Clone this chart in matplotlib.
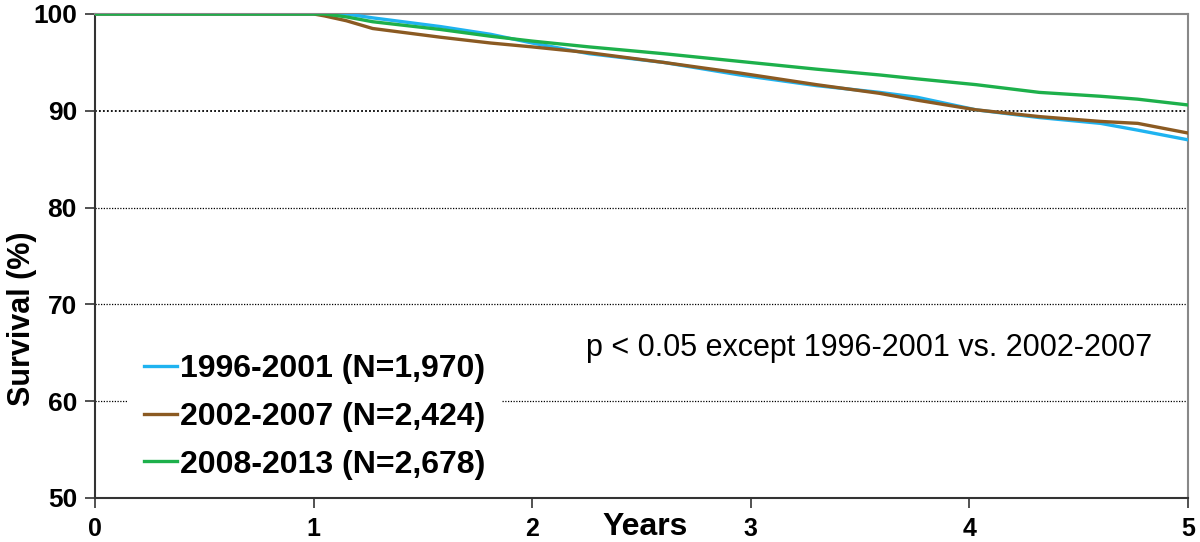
import numpy as np
import matplotlib
matplotlib.use('Agg')
import matplotlib.pyplot as plt

plt.rcParams['font.family'] = ['Liberation Sans', 'DejaVu Sans']

# survival curves
years = [0, 1.0, 1.05, 1.15, 1.27, 1.58, 1.81, 2.0, 2.26, 2.6, 2.95, 3.3,
         3.59, 3.76, 4.03, 4.32, 4.6, 4.77, 5.0]
surv_9601 = [100, 100, 100, 100, 99.6, 98.7, 97.9, 97.0, 95.9, 95.0, 93.7, 92.6,
             91.9, 91.4, 90.1, 89.3, 88.7, 88.0, 87.0]
surv_0207 = [100, 100, 99.8, 99.3, 98.5, 97.6, 97.0, 96.6, 96.0, 95.0, 93.9, 92.7,
             91.8, 91.1, 90.1, 89.4, 88.9, 88.7, 87.7]
surv_0813 = [100, 100, 100, 99.7, 99.2, 98.4, 97.7, 97.2, 96.6, 95.9, 95.1, 94.3,
             93.7, 93.3, 92.7, 91.9, 91.5, 91.2, 90.6]

labels = ['1996-2001 (N=1,970)', '2002-2007 (N=2,424)', '2008-2013 (N=2,678)']
colors = ['#1fb3f0', '#8b5a22', '#1db04b']
xticks = [0, 1, 2, 3, 4, 5]
yticks = [50, 60, 70, 80, 90, 100]

fig = plt.figure(figsize=(12, 5.42), dpi=100)
ax = fig.add_axes([0.0792, 0.0812, 0.9108, 0.893])

for y, c, lab in zip([surv_9601, surv_0207, surv_0813], colors, labels):
    ax.plot(years, y, color=c, lw=2.4, label=lab, zorder=3)

ax.set_xlim(0, 5)
ax.set_ylim(50, 100)
ax.set_xticks(xticks)
ax.set_yticks(yticks)
ax.tick_params(axis='both', direction='out', length=7, width=1.2, colors='#333333',
               labelcolor='black')
ax.tick_params(axis='x', pad=7, labelsize=18)
ax.tick_params(axis='y', pad=6, labelsize=19)
for lb in ax.get_xticklabels() + ax.get_yticklabels():
    lb.set_fontweight('bold')

for yy in [60, 70, 80, 90]:
    ax.axhline(yy, color='black', lw=1.3 if yy == 90 else 0.9, ls=(0, (1, 1.2)), zorder=1)

for s in ['left', 'bottom']:
    ax.spines[s].set_color('#333333')
    ax.spines[s].set_linewidth(1.5)
for s in ['top', 'right']:
    ax.spines[s].set_color('#888888')
    ax.spines[s].set_linewidth(1.5)

ax.set_ylabel('Survival (%)', fontsize=22, fontweight='bold')
ax.yaxis.set_label_coords(-0.053, 0.37)
ax.text(0.503, -0.06, 'Years', transform=ax.transAxes, ha='center', va='center',
        fontsize=23, fontweight='bold')

ax.text(0.967, 0.31, 'p < 0.05 except 1996-2001 vs. 2002-2007', transform=ax.transAxes,
        ha='right', va='center', fontsize=22)

leg = ax.legend(loc='lower left', bbox_to_anchor=(0.030, 0.005),
                prop={'weight': 'bold', 'size': 23}, frameon=True, fancybox=False,
                handlelength=1.05, handletextpad=0.08, labelspacing=0.55,
                borderpad=0.5, borderaxespad=0)
leg.get_frame().set_facecolor('white')
leg.get_frame().set_edgecolor('none')
leg.get_frame().set_alpha(1)
for h in leg.get_lines():
    h.set_linewidth(2.4)

fig.savefig('out.png', dpi=100)
